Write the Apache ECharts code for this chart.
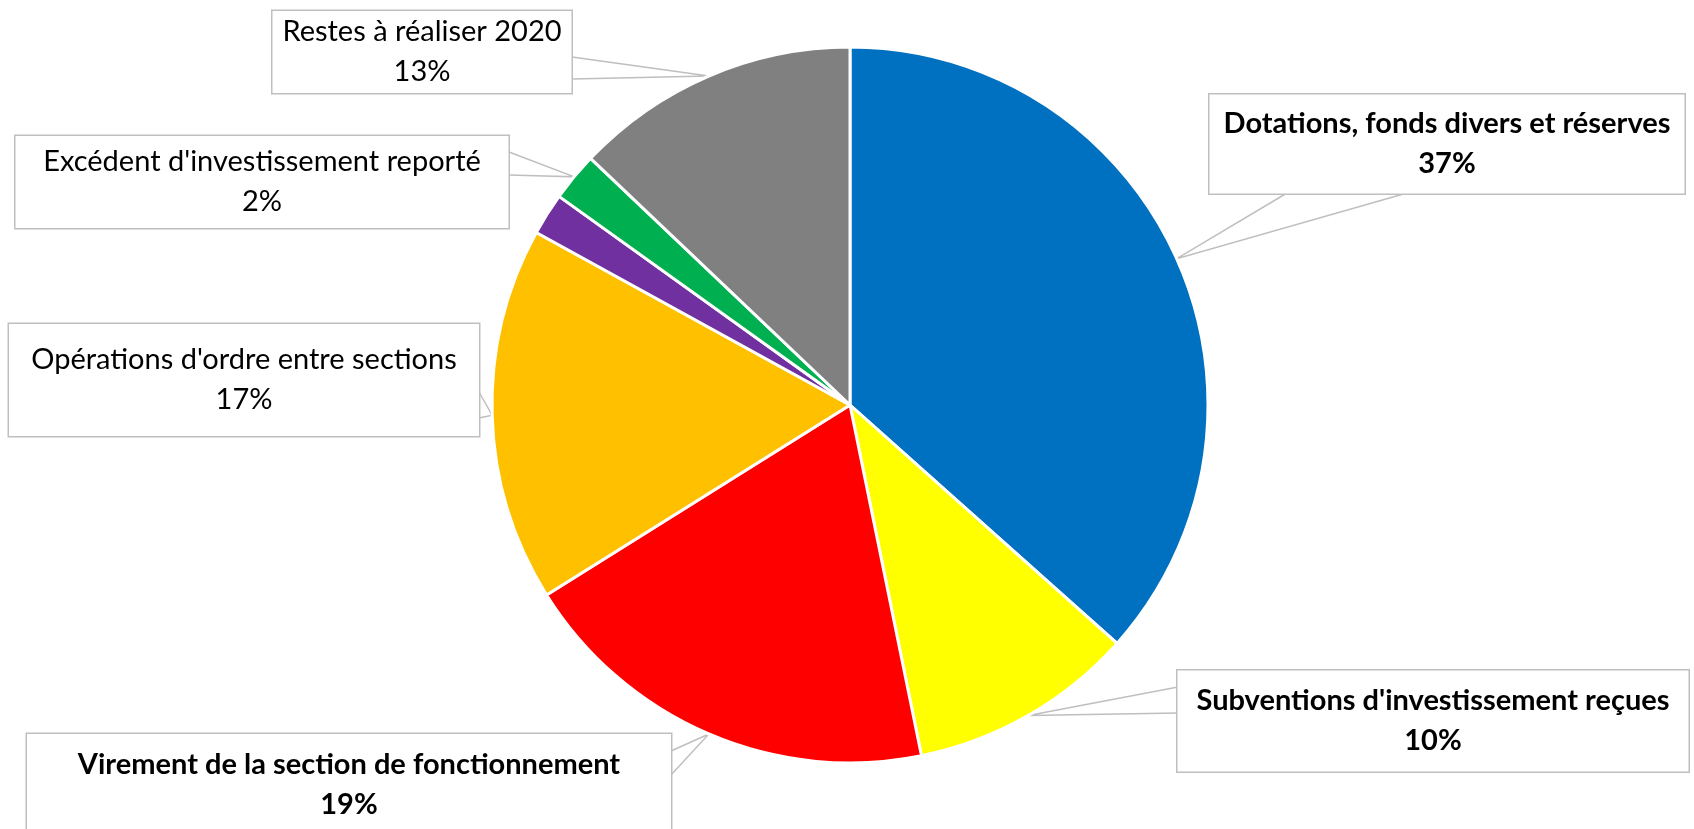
<!DOCTYPE html>
<html>
<head>
<meta charset="utf-8">
<script src="https://cdn.jsdelivr.net/npm/echarts@6/dist/echarts.min.js"></script>
<style>
html,body{margin:0;padding:0;background:#fff;}
#chart{width:1694px;height:829px;}
</style>
</head>
<body>
<div id="chart"></div>
<script>
// Data
const categories = [
  "Dotations, fonds divers et réserves",
  "Subventions d'investissement reçues",
  "Virement de la section de fonctionnement",
  "Opérations d'ordre entre sections",
  "Autres",
  "Excédent d'investissement reporté",
  "Restes à réaliser 2020"
];
const values = [36.6, 10.2, 19.3, 16.9, 1.9, 2.2, 12.9];
const showLabel = [true, true, true, true, false, true, true];
const boldLabel = [true, true, true, false, false, false, false];

// Layout / style (not data)
const colors = ["#0070C0", "#FFFF00", "#FF0000", "#FFC000", "#7030A0", "#00B050", "#808080"];
const labelBoxes = [
  {cx: 1447, cy: 144, w: 475, h: 99,  base: [[1287, 193], [1407, 193]]},
  {cx: 1433, cy: 721, w: 511, h: 101, base: [[1178, 687], [1178, 713]]},
  {cx: 349,  cy: 785, w: 644, h: 102, base: [[671, 751], [671, 775]]},
  {cx: 244,  cy: 380, w: 470, h: 112, base: [[479, 392], [479, 418]]},
  null,
  {cx: 262,  cy: 182, w: 493, h: 92,  base: [[509, 152], [509, 175]]},
  {cx: 422,  cy: 52,  w: 299, h: 82,  base: [[572, 57], [572, 79]]}
];
const LINE_H = 40;

const chart = echarts.init(document.getElementById('chart'), null, {renderer: 'canvas'});

const seriesData = categories.map((name, i) => {
  const box = labelBoxes[i];
  const item = {
    name: name,
    value: values[i],
    itemStyle: {color: colors[i]}
  };
  if (!showLabel[i]) {
    item.label = {show: false};
    item.labelLine = {show: false};
  } else {
    const vpad = Math.max(0, (box.h - 2 * LINE_H) / 2);
    item.label = {
      show: true,
      fontWeight: boldLabel[i] ? 'bold' : 'normal',
      width: box.w,
      padding: [vpad, 0, vpad, 0]
    };
  }
  return item;
});

const option = {
  backgroundColor: '#ffffff',
  animation: false,
  series: [{
    type: 'pie',
    center: [850, 405],
    radius: 358,
    startAngle: 90,
    clockwise: true,
    percentPrecision: 0,
    avoidLabelOverlap: false,
    itemStyle: {borderColor: '#ffffff', borderWidth: 3},
    label: {
      show: true,
      formatter: '{b}\n{d}%',
      fontFamily: 'Lato, "Noto Sans", sans-serif',
      fontSize: 29,
      lineHeight: LINE_H,
      color: '#000000',
      align: 'center',
      backgroundColor: '#ffffff',
      borderColor: '#BFBFBF',
      borderWidth: 1.5,
      overflow: 'none'
    },
    labelLine: {
      show: true,
      length: 0,
      length2: 0,
      lineStyle: {color: '#BFBFBF', width: 1.5}
    },
    labelLayout: function (params) {
      const box = labelBoxes[params.dataIndex];
      if (!box) return {};
      const pts = params.labelLinePoints;
      const res = {
        x: box.cx,
        y: box.cy,
        align: 'center',
        verticalAlign: 'middle',
        hideOverlap: false
      };
      if (pts && pts.length) {
        const tip = pts[0];
        res.labelLinePoints = [box.base[0], [tip[0], tip[1]], box.base[1]];
      }
      return res;
    },
    emphasis: {disabled: true},
    data: seriesData
  }]
};
chart.setOption(option);
</script>
</body>
</html>
